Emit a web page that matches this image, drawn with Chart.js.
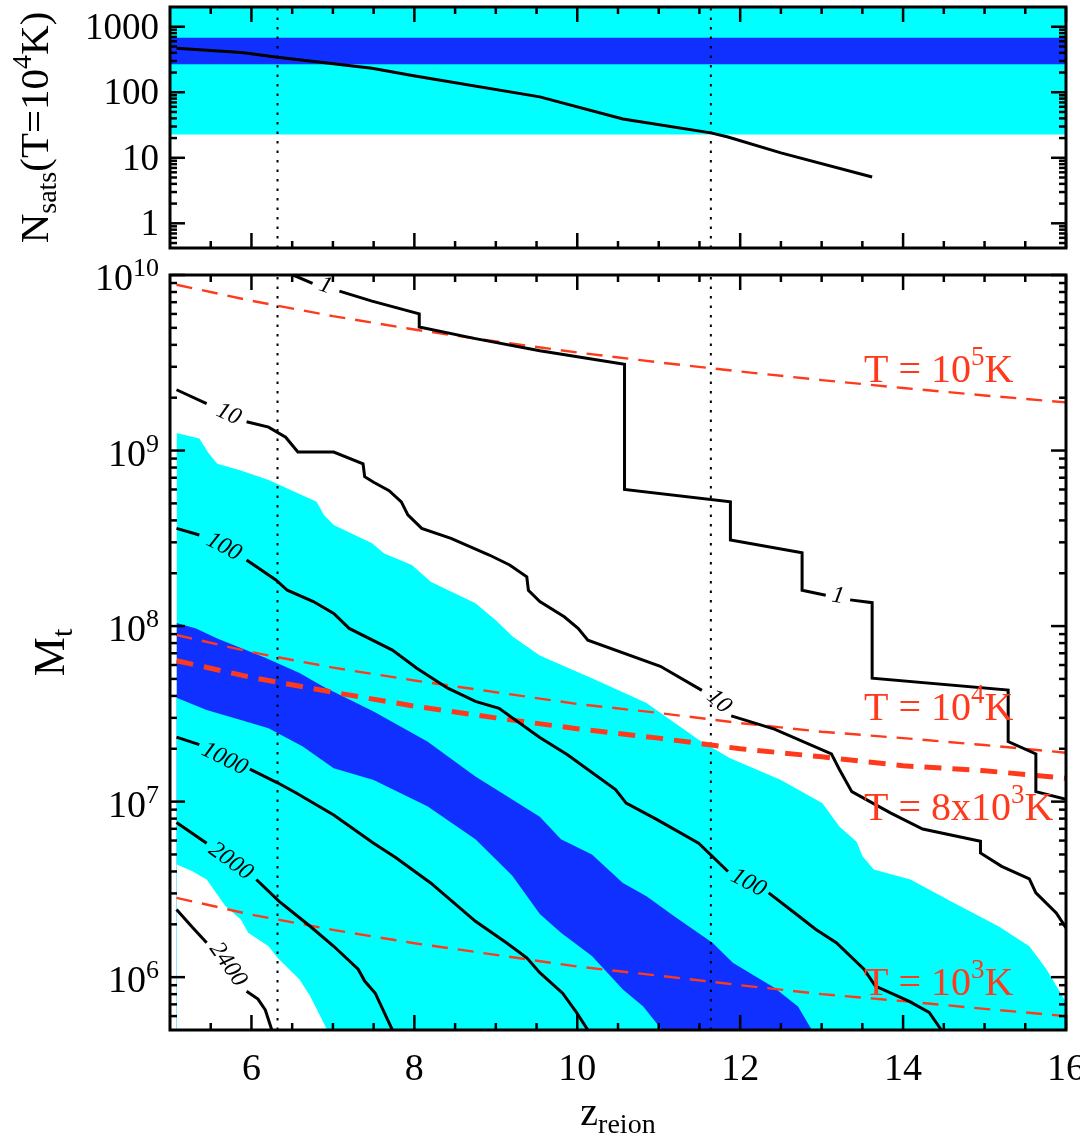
<!DOCTYPE html>
<html>
<head>
<meta charset="utf-8">
<script src="https://cdn.jsdelivr.net/npm/chart.js@4.4.1/dist/chart.umd.min.js"></script>
<style>
  body { margin: 0; background: #fff; }
  #wrap { position: relative; width: 1080px; height: 1136px; overflow: hidden; }
  canvas { position: absolute; left: 0; }
  #nsats { top: 0; }
  #mt { top: 252px; }
</style>
</head>
<body>
<div id="wrap">
  <canvas id="nsats" width="1080" height="256"></canvas>
  <canvas id="mt" width="1080" height="884"></canvas>
</div>
<script>
//data
const G = null; // gap in a contour where its label sits

// top panel: N_sats(T=1e4 K) vs z_reion
const zTop = [5.08, 5.88, 6.32, 7.48, 7.99, 9.54, 10.56, 11.64, 11.85, 12.50, 13.62];
const nSats = [470, 403, 343, 233, 178, 85, 39, 24, 20.8, 11.9, 5.1];
const nCyan = [22.6, 2000];
const nBlue = [268, 681];

// vertical dotted markers
const zMarks = [6.32, 11.64];

// bottom panel: shaded regions
const zCyanUp = [5.08, 5.36, 5.47, 5.58, 5.87, 6.21, 6.80, 6.89, 7.01, 7.48, 7.63, 7.97, 8.20, 8.75, 9.00, 9.21, 9.54, 10.20, 10.56, 10.85, 11.49, 11.87, 12.50, 13.01, 13.22, 13.43, 13.50, 13.64, 14.09, 14.62, 15.17, 15.55, 15.76, 16.0];
const mCyanUp = [1.26e9, 1.17e9, 9.7e8, 8.4e8, 7.7e8, 6.8e8, 5.1e8, 4.3e8, 3.76e8, 2.96e8, 2.59e8, 2.23e8, 1.79e8, 1.35e8, 1.08e8, 8.7e7, 6.8e7, 5.0e7, 4.2e7, 3.64e7, 2.25e7, 1.77e7, 1.33e7, 9.8e6, 7.2e6, 5.9e6, 4.9e6, 4.1e6, 3.6e6, 2.65e6, 1.95e6, 1.50e6, 1.11e6, 7.2e5];
const zCyanLow = [5.08, 5.28, 5.45, 5.68, 5.87, 5.96, 6.21, 6.32, 6.59, 6.72, 6.93];
const mCyanLow = [4.4e6, 4.0e6, 3.6e6, 2.54e6, 2.13e6, 1.79e6, 1.50e6, 1.29e6, 9.7e5, 7.8e5, 5.0e5];
const zBlueUp = [5.08, 5.32, 5.58, 6.17, 6.59, 6.89, 7.50, 8.16, 8.75, 9.54, 9.80, 10.18, 10.56, 10.85, 11.19, 11.66, 11.91, 12.42, 12.71, 12.88];
const mBlueUp = [1.04e8, 9.7e7, 8.5e7, 6.6e7, 5.4e7, 4.5e7, 3.26e7, 2.20e7, 1.39e7, 8.2e6, 6.1e6, 5.0e6, 3.44e6, 2.89e6, 2.22e6, 1.57e6, 1.21e6, 8.7e5, 6.8e5, 5.0e5];
const zBlueLow = [5.08, 5.45, 5.87, 6.21, 6.63, 7.01, 7.50, 8.16, 8.75, 9.20, 9.54, 9.80, 10.18, 10.56, 10.81, 11.04];
const mBlueLow = [3.9e7, 3.33e7, 2.92e7, 2.62e7, 2.06e7, 1.55e7, 1.33e7, 9.4e6, 6.1e6, 3.8e6, 2.29e6, 1.79e6, 1.32e6, 8.5e5, 6.8e5, 5.0e5];

// bottom panel: contours
const zC1 = [6.51, 6.75, G, 7.08, 7.48, 8.06, 8.06, 8.75, 9.54, 10.58, 10.58, 11.88, 11.88, 12.76, 12.76, 13.05, G, 13.35, 13.62, 13.62, 15.29, 15.29, 15.63, 15.63, 16.0];
const mC1 = [1e10, 8.97e9, G, 8.09e9, 7.10e9, 6.01e9, 5.05e9, 4.34e9, 3.70e9, 3.10e9, 6.0e8, 5.1e8, 3.09e8, 2.62e8, 1.60e8, 1.50e8, G, 1.41e8, 1.36e8, 5.05e7, 4.32e7, 2.20e7, 1.87e7, 1.14e7, 1.03e7];
const zC10 = [5.08, 5.45, G, 5.94, 6.21, 6.42, 6.57, 7.01, 7.37, 7.39, 7.50, 7.69, 7.84, 7.92, 8.09, 8.45, 8.92, 9.17, 9.38, 9.40, 9.54, 9.84, 10.01, 10.13, 11.02, 11.53, G, 11.89, 12.42, 13.12, 13.22, 13.37, 13.85, 14.24, 14.95, 14.95, 15.21, 15.55, 15.63, 15.88, 16.0];
const mC10 = [2.22e9, 1.85e9, G, 1.46e9, 1.36e9, 1.19e9, 9.8e8, 9.8e8, 8.4e8, 7.1e8, 6.6e8, 5.9e8, 5.1e8, 4.3e8, 3.6e8, 3.16e8, 2.54e8, 2.23e8, 1.91e8, 1.60e8, 1.38e8, 1.13e8, 9.7e7, 8.3e7, 5.9e7, 4.3e7, G, 3.08e7, 2.59e7, 1.87e7, 1.52e7, 1.14e7, 8.6e6, 6.98e6, 5.94e6, 5.1e6, 4.28e6, 3.63e6, 3.02e6, 2.32e6, 1.91e6];
const zC100 = [5.08, 5.36, G, 5.94, 6.30, 6.44, 6.76, 7.01, 7.20, 7.73, 8.03, 8.41, 8.75, 9.04, 9.54, 9.88, 10.47, 10.60, 10.98, 11.49, 11.85, G, 12.35, 12.67, 12.93, 13.18, 13.52, 13.66, 14.07, 14.32, 14.47];
const mC100 = [3.6e8, 3.3e8, G, 2.38e8, 1.83e8, 1.60e8, 1.38e8, 1.18e8, 9.7e7, 7.3e7, 5.75e7, 4.43e7, 3.72e7, 3.40e7, 2.32e7, 1.85e7, 1.17e7, 9.8e6, 7.9e6, 5.8e6, 4.0e6, G, 3.02e6, 2.32e6, 1.87e6, 1.57e6, 1.11e6, 8.9e5, 7.3e5, 6.3e5, 5.0e5];
const zC1000 = [5.08, 5.36, G, 5.98, 6.32, 6.55, 7.01, 7.50, 7.77, 8.20, 8.75, 9.13, 9.38, 9.54, 9.82, 9.99, 10.13];
const mC1000 = [2.33e7, 2.11e7, G, 1.53e7, 1.28e7, 1.12e7, 8.4e6, 5.8e6, 4.8e6, 3.44e6, 2.08e6, 1.57e6, 1.29e6, 1.06e6, 8.1e5, 6.3e5, 5.0e5];
const zC2000 = [5.08, 5.45, G, 6.06, 6.34, 6.72, 7.01, 7.31, 7.39, 7.52, 7.73];
const mC2000 = [7.6e6, 5.8e6, G, 3.6e6, 2.70e6, 1.95e6, 1.50e6, 1.11e6, 9.5e5, 8.1e5, 5.0e5];
const zC2400 = [5.08, 5.28, 5.45, G, 5.94, 6.08, 6.17, 6.25];
const mC2400 = [2.43e6, 1.91e6, 1.57e6, G, 8.3e5, 7.5e5, 6.5e5, 5.0e5];

// contour labels
const labelText = ["1", "10", "100", "1", "10", "100", "1000", "2000", "2400"];
const labelZ = [6.91, 5.72, 5.66, 13.2, 11.74, 12.10, 5.67, 5.745, 5.71];
const labelM = [8.7e9, 1.61e9, 2.83e8, 1.48e8, 3.72e7, 3.44e6, 1.75e7, 4.57e6, 1.18e6];

// virial temperature lines
const zT = [5.08, 6, 7, 8, 9, 10, 11, 12, 13, 14, 15, 16];
const mT1e5 = [8.8e9, 7.13e9, 5.83e9, 4.89e9, 4.18e9, 3.62e9, 3.18e9, 2.82e9, 2.52e9, 2.27e9, 2.06e9, 1.88e9];
const mT1e4 = [8.9e7, 7.1e7, 5.8e7, 4.9e7, 4.2e7, 3.6e7, 3.2e7, 2.8e7, 2.5e7, 2.3e7, 2.1e7, 1.9e7];
const mT8e3 = [6.35e7, 5.1e7, 4.2e7, 3.5e7, 3.0e7, 2.6e7, 2.3e7, 2.0e7, 1.8e7, 1.6e7, 1.5e7, 1.36e7];
const mT1e3 = [2.83e6, 2.27e6, 1.86e6, 1.56e6, 1.34e6, 1.15e6, 1.02e6, 9.0e5, 8.0e5, 7.3e5, 6.6e5, 6.0e5];
const tMain = ["T = 10", "T = 10", "T = 8x10", "T = 10"];
const tSup = ["5", "4", "3", "3"];
const tLabelZ = 13.52;
const tLabelM = [2.45e9, 2.93e7, 7.9e6, 7.9e5];

// ticks
const xTicks = [6, 8, 10, 12, 14, 16];
const xTickLabels = ["6", "8", "10", "12", "14", "16"];
const nTicks = [1, 10, 100, 1000];
const nTickLabels = ["1", "10", "100", "1000"];
const mTicks = [1e6, 1e7, 1e8, 1e9, 1e10];
const mTickExp = ["6", "7", "8", "9", "10"];

//const
const SERIF = '"Liberation Serif", "Times New Roman", Times, serif';
const RED = "#ff3a1c";
const CYAN = "#00ffff";
const BLUE = "#1030ff";

//func
const pts = (xs, ys) => xs.map((x, i) => ({ x: x, y: ys[i] }));

function lineSet(xs, ys, color, width, dash, order) {
  return {
    data: pts(xs, ys),
    borderColor: color,
    borderWidth: width,
    borderDash: dash || [],
    pointRadius: 0,
    fill: false,
    tension: 0,
    order: order,
  };
}

function fillSet(xs, ys, color, target, order) {
  return {
    data: pts(xs, ys),
    borderWidth: 0,
    borderColor: "rgba(0,0,0,0)",
    backgroundColor: color,
    pointRadius: 0,
    fill: target,
    order: order,
  };
}

function logMinor(min, max) {
  const out = [];
  for (let d = -2; d <= 11; d++) {
    for (let m = 2; m <= 9; m++) {
      const v = m * Math.pow(10, d);
      if (v > min && v < max) out.push(v);
    }
  }
  return out;
}

function xMinor() {
  const out = [];
  for (let v = 5.5; v < 16; v += 0.5) if (v % 2 != 0) out.push(v);
  return out;
}

// draw a run of text pieces with their own font and vertical shift
function richText(ctx, parts, x, y, align) {
  let w = 0;
  parts.forEach((p) => {
    ctx.font = p.f;
    p.w = ctx.measureText(p.t).width;
    w += p.w;
  });
  let cx = align === "right" ? x - w : align === "center" ? x - w / 2 : x;
  ctx.textAlign = "left";
  ctx.textBaseline = "alphabetic";
  parts.forEach((p) => {
    ctx.font = p.f;
    ctx.fillText(p.t, cx, y + (p.dy || 0));
    cx += p.w;
  });
}

// frame, inward ticks on all sides, tick labels and axis titles
const frameAxes = {
  id: "frameAxes",
  afterDraw(chart, args, o) {
    const { ctx, chartArea: a, scales } = chart;
    const x = scales.x, y = scales.y;
    ctx.save();
    ctx.strokeStyle = "#000";
    ctx.fillStyle = "#000";
    ctx.lineWidth = 2.5;
    const seg = (x1, y1, x2, y2) => {
      ctx.beginPath();
      ctx.moveTo(x1, y1);
      ctx.lineTo(x2, y2);
      ctx.stroke();
    };
    const xt = (v, len) => {
      const px = x.getPixelForValue(v);
      seg(px, a.bottom, px, a.bottom - len);
      seg(px, a.top, px, a.top + len);
    };
    const yt = (v, len) => {
      const py = y.getPixelForValue(v);
      seg(a.left, py, a.left + len, py);
      seg(a.right, py, a.right - len, py);
    };
    o.xMinor.forEach((v) => xt(v, 7));
    o.xMajor.forEach((v) => xt(v, 15));
    o.yMinor.forEach((v) => yt(v, 7));
    o.yMajor.forEach((v) => yt(v, 15));
    ctx.lineWidth = 3;
    ctx.strokeRect(a.left, a.top, a.right - a.left, a.bottom - a.top);

    // tick labels
    if (o.xLabels) {
      o.xMajor.forEach((v, i) => {
        richText(ctx, [{ t: o.xLabels[i], f: "38px " + SERIF }], x.getPixelForValue(v), a.bottom + 50, "center");
      });
    }
    o.yMajor.forEach((v, i) => {
      richText(ctx, o.yLabel(i), a.left - 11, y.getPixelForValue(v) + o.yShift, "right");
    });

    // x title
    if (o.xTitle) richText(ctx, o.xTitle, (a.left + a.right) / 2, a.bottom + 95, "center");
    // y title, rotated
    ctx.save();
    ctx.translate(o.yTitleX, (a.top + a.bottom) / 2);
    ctx.rotate(-Math.PI / 2);
    richText(ctx, o.yTitle, 0, 0, "center");
    ctx.restore();
    ctx.restore();
  },
};

// contour labels and temperature labels
const markLabels = {
  id: "markLabels",
  afterDatasetsDraw(chart) {
    const { ctx } = chart;
    const x = chart.scales.x, y = chart.scales.y;
    const angle = [19, 25, 28, 10, 42, 28, 26, 36, 55];
    ctx.save();
    ctx.fillStyle = "#000";
    ctx.font = "italic 24px " + SERIF;
    ctx.textAlign = "center";
    ctx.textBaseline = "middle";
    labelText.forEach((t, i) => {
      ctx.save();
      ctx.translate(x.getPixelForValue(labelZ[i]), y.getPixelForValue(labelM[i]));
      ctx.rotate((angle[i] * Math.PI) / 180);
      ctx.fillText(t, 0, 0);
      ctx.restore();
    });
    ctx.fillStyle = RED;
    tLabelM.forEach((m, i) => {
      richText(
        ctx,
        [
          { t: tMain[i], f: "40px " + SERIF },
          { t: tSup[i], f: "27px " + SERIF, dy: -17 },
          { t: "K", f: "40px " + SERIF },
        ],
        x.getPixelForValue(tLabelZ),
        y.getPixelForValue(m),
        "left"
      );
    });
    ctx.restore();
  },
};

function baseOptions(pad, ymin, ymax, axesOpts) {
  return {
    responsive: false,
    animation: false,
    events: [],
    layout: { padding: pad },
    scales: {
      x: { type: "linear", min: 5, max: 16, display: false },
      y: { type: "logarithmic", min: ymin, max: ymax, display: false },
    },
    plugins: {
      legend: { display: false },
      tooltip: { enabled: false },
      frameAxes: axesOpts,
    },
  };
}

function drawTop() {
  const datasets = [
    lineSet(zTop, nSats, "#000", 3, [], 1),
    lineSet([zMarks[0], zMarks[0]], [0.42, 2000], "#000", 2, [2.5, 7], 2),
    lineSet([zMarks[1], zMarks[1]], [0.42, 2000], "#000", 2, [2.5, 7], 2),
    fillSet([5, 16], [nBlue[1], nBlue[1]], BLUE, { value: nBlue[0] }, 8),
    fillSet([5, 16], [nCyan[1], nCyan[1]], CYAN, { value: nCyan[0] }, 9),
  ];
  const opts = baseOptions({ left: 170, right: 14, top: 7, bottom: 8 }, 0.42, 2000, {
    xMajor: xTicks,
    xMinor: xMinor(),
    yMajor: nTicks,
    yMinor: logMinor(0.42, 2000),
    xLabels: null,
    yShift: 12,
    yLabel: (i) => [{ t: nTickLabels[i], f: "37px " + SERIF }],
    yTitleX: 48,
    yTitle: [
      { t: "N", f: "41px " + SERIF },
      { t: "sats", f: "28px " + SERIF, dy: 8 },
      { t: "(T=10", f: "41px " + SERIF },
      { t: "4", f: "28px " + SERIF, dy: -17 },
      { t: "K)", f: "41px " + SERIF },
    ],
  });
  new Chart(document.getElementById("nsats"), {
    type: "line",
    data: { datasets: datasets },
    options: opts,
    plugins: [frameAxes],
  });
}

function drawBottom() {
  const datasets = [
    lineSet(zC1, mC1, "#000", 3, [], 1),
    lineSet(zC10, mC10, "#000", 3, [], 1),
    lineSet(zC100, mC100, "#000", 3, [], 1),
    lineSet(zC1000, mC1000, "#000", 3, [], 1),
    lineSet(zC2000, mC2000, "#000", 3, [], 1),
    lineSet(zC2400, mC2400, "#000", 3, [], 1),
    lineSet(zT, mT1e5, RED, 2.4, [16, 10], 2),
    lineSet(zT, mT1e4, RED, 2.4, [16, 10], 2),
    lineSet(zT, mT8e3, RED, 5, [17, 11], 2),
    lineSet(zT, mT1e3, RED, 2.4, [16, 10], 2),
    lineSet([zMarks[0], zMarks[0]], [5e5, 1e10], "#000", 2, [2.5, 7], 3),
    lineSet([zMarks[1], zMarks[1]], [5e5, 1e10], "#000", 2, [2.5, 7], 3),
    fillSet(zCyanLow, mCyanLow, "#ffffff", "start", 6),
    fillSet(zBlueLow, mBlueLow, CYAN, "start", 7),
    fillSet(zBlueUp, mBlueUp, BLUE, "start", 8),
    fillSet(zCyanUp, mCyanUp, CYAN, "start", 9),
  ];
  const opts = baseOptions({ left: 170, right: 14, top: 23, bottom: 106 }, 5e5, 1e10, {
    xMajor: xTicks,
    xMinor: xMinor(),
    yMajor: mTicks,
    yMinor: logMinor(5e5, 1e10),
    xLabels: xTickLabels,
    yShift: 15,
    yLabel: (i) => [
      { t: "10", f: "38px " + SERIF },
      { t: mTickExp[i], f: "26px " + SERIF, dy: -14 },
    ],
    yTitleX: 64,
    yTitle: [
      { t: "M", f: "44px " + SERIF },
      { t: "t", f: "30px " + SERIF, dy: 8 },
    ],
    xTitle: [
      { t: "z", f: "40px " + SERIF },
      { t: "reion", f: "28px " + SERIF, dy: 8 },
    ],
  });
  new Chart(document.getElementById("mt"), {
    type: "line",
    data: { datasets: datasets },
    options: opts,
    plugins: [markLabels, frameAxes],
  });
}

//calls
drawTop();
drawBottom();
</script>
</body>
</html>
